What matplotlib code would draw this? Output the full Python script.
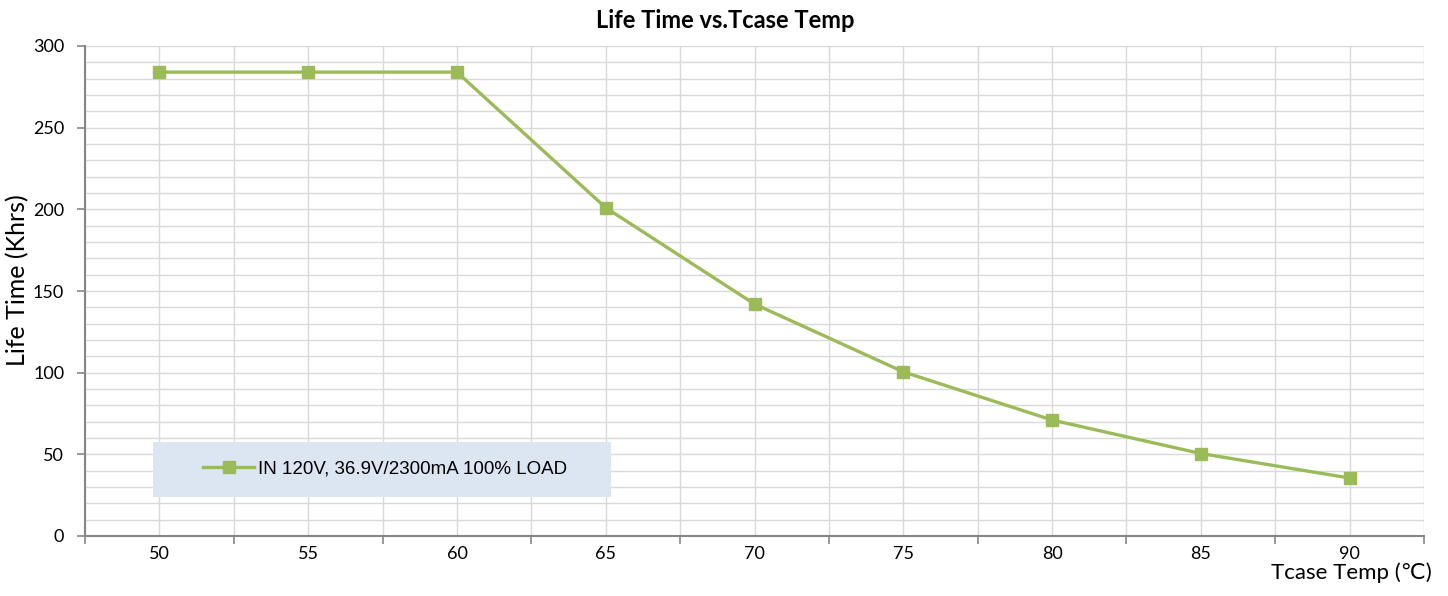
import matplotlib.pyplot as plt
from matplotlib.patches import Rectangle
from matplotlib.ticker import MultipleLocator

temps = ["50", "55", "60", "65", "70", "75", "80", "85", "90"]
life = [284, 284, 284, 201, 142, 100.5, 71, 50.5, 35.5]
series_name = "IN 120V, 36.9V/2300mA 100% LOAD"

plt.rcParams['font.family'] = ['Lato', 'DejaVu Sans']

fig = plt.figure(figsize=(14.48, 5.96), dpi=100)
ax = fig.add_axes([85/1448, 60/596, (1424-85)/1448, (536-46)/596])

x = list(range(len(temps)))
line, = ax.plot(x, life, color="#9BBB59", lw=2.4, marker="s", markersize=8,
                markerfacecolor="#9BBB59", markeredgecolor="#9BBB59", zorder=3,
                label=series_name)

ax.set_xlim(-0.5, len(temps) - 0.5)
ax.set_ylim(0, 300)

# category labels centered, tick marks between categories
ax.set_xticks(x)
ax.set_xticklabels(temps, fontsize=13)
ax.set_xticks([i + 0.5 for i in range(-1, len(temps))], minor=True)
ax.tick_params(axis="x", which="major", length=0, pad=7)
ax.tick_params(axis="x", which="minor", length=6, width=1.2, color="#868686", direction="out")

ax.yaxis.set_major_locator(MultipleLocator(50))
ax.yaxis.set_minor_locator(MultipleLocator(10))
ax.tick_params(axis="y", which="major", length=6, width=1.2, color="#868686", labelsize=13, pad=9)
ax.tick_params(axis="y", which="minor", length=0)

# gridlines: every category and boundary, every 10 on y
for gx in [i * 0.5 for i in range(-1, 2 * len(temps))]:
    ax.axvline(gx, color="#D9D9D9", lw=1, zorder=0)
ax.grid(True, axis="y", which="both", color="#D9D9D9", lw=1, zorder=0)

for s in ["top", "right"]:
    ax.spines[s].set_visible(False)
for s in ["left", "bottom"]:
    ax.spines[s].set_color("#868686")
    ax.spines[s].set_linewidth(1.5)
    ax.spines[s].set_zorder(4)

fig.text(725/1448, 1 - 20/596, "Life Time vs.Tcase Temp", ha="center", va="center",
         fontsize=17, fontweight="bold")
fig.text(18/1448, 1 - 280/596, "Life Time (Khrs)", rotation=90, ha="center", va="center", fontsize=18)
fig.text(1432/1448, 1 - 573/596, "Tcase Temp (℃)", ha="right", va="center", fontsize=16)

# legend box
fig.patches.append(Rectangle((153/1448, 1 - 497/596), (611-153)/1448, 55/596,
                             transform=fig.transFigure, facecolor="#DCE6F2",
                             edgecolor="none", zorder=5))
leg = fig.legend(handles=[line], loc="center", bbox_to_anchor=(385/1448, 1 - 469/596),
                 frameon=False, prop={"family": "Liberation Sans", "size": 13.5},
                 handlelength=2.7, handletextpad=0.2)
leg.set_zorder(6)

fig.savefig("out.png", dpi=100)
